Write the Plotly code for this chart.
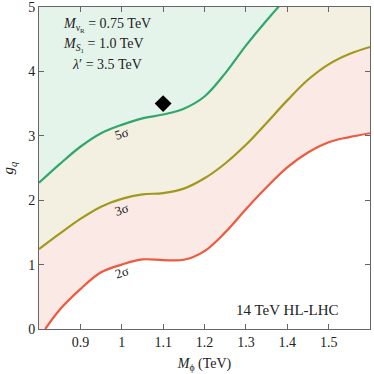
import plotly.graph_objects as go

x_vals = [0.8, 0.85, 0.9, 0.95, 1.0, 1.05, 1.1, 1.15, 1.2, 1.25, 1.3, 1.35, 1.4, 1.45, 1.5, 1.55, 1.6]
green_5sigma = [2.27, 2.56, 2.83, 3.04, 3.17, 3.27, 3.33, 3.42, 3.61, 3.97, 4.40, 4.79, 5.15, 5.45, 5.75, 6.0, 6.2]
olive_3sigma = [1.24, 1.48, 1.71, 1.90, 2.02, 2.09, 2.11, 2.18, 2.34, 2.57, 2.86, 3.20, 3.55, 3.87, 4.11, 4.27, 4.38]
red_x = [0.815, 0.85, 0.9, 0.95, 1.0, 1.05, 1.1, 1.15, 1.2, 1.25, 1.3, 1.35, 1.4, 1.45, 1.5, 1.55, 1.6]
red_2sigma = [0.0, 0.3, 0.62, 0.88, 1.0, 1.08, 1.07, 1.075, 1.21, 1.50, 1.86, 2.20, 2.51, 2.74, 2.90, 2.98, 3.04]

bench_x = [1.1]
bench_y = [3.5]

x_ticks = [0.9, 1.0, 1.1, 1.2, 1.3, 1.4, 1.5]
x_tick_labels = ["0.9", "1", "1.1", "1.2", "1.3", "1.4", "1.5"]
y_ticks = [0, 1, 2, 3, 4, 5]

FONT = "Liberation Serif, Times New Roman, Times, serif"

fig = go.Figure()
fig.add_trace(go.Scatter(x=x_vals, y=green_5sigma, mode="lines", line=dict(color="#2fa86c", width=2.2, shape="spline"),
                         fill="tozeroy", fillcolor="#f3f0e2", hoverinfo="skip"))
fig.add_trace(go.Scatter(x=x_vals, y=olive_3sigma, mode="lines", line=dict(color="#9e9a1e", width=2.2, shape="spline"),
                         fill="tozeroy", fillcolor="#fbe9e5", hoverinfo="skip"))
fig.add_trace(go.Scatter(x=red_x, y=red_2sigma, mode="lines", line=dict(color="#ef5a3e", width=2.2, shape="spline"),
                         fill="tozeroy", fillcolor="#ffffff", hoverinfo="skip"))
fig.add_trace(go.Scatter(x=bench_x, y=bench_y, mode="markers",
                         marker=dict(symbol="diamond", size=13, color="black"), hoverinfo="skip"))

labels = [(1.0, 3.03, "5σ"), (1.0, 1.85, "3σ"), (1.0, 0.88, "2σ")]
for lx, ly, t in labels:
    fig.add_annotation(x=lx, y=ly, text=t, showarrow=False, textangle=-18,
                       font=dict(family=FONT, size=13, color="#222"))

fig.add_annotation(x=0.964, y=4.72, xref="x", yref="y", text="<i>M</i><sub>ν<sub>R</sub></sub> = 0.75 TeV",
                   showarrow=False, font=dict(family=FONT, size=14, color="#222"))
fig.add_annotation(x=0.955, y=4.41, xref="x", yref="y", text="<i>M</i><sub><i>S</i><sub>1</sub></sub> = 1.0 TeV",
                   showarrow=False, font=dict(family=FONT, size=14, color="#222"))
fig.add_annotation(x=0.964, y=4.10, xref="x", yref="y", text="<i>λ</i>′ = 3.5 TeV",
                   showarrow=False, font=dict(family=FONT, size=14, color="#222"))
fig.add_annotation(x=1.40, y=0.30, xref="x", yref="y", text="14 TeV HL-LHC",
                   showarrow=False, font=dict(family=FONT, size=15, color="#222"))

axis_common = dict(showline=True, linecolor="#666", linewidth=1, mirror="ticks", ticks="inside",
                   ticklen=5, tickcolor="#666", showgrid=False, zeroline=False, ticklabeloverflow="allow",
                   tickfont=dict(family=FONT, size=14, color="#222"))

fig.update_xaxes(range=[0.8, 1.6], tickvals=x_ticks, ticktext=x_tick_labels,
                 title=dict(text="<i>M</i><sub>ϕ</sub> (TeV)", font=dict(family=FONT, size=14, color="#222"), standoff=9),
                 **axis_common)
fig.update_yaxes(range=[0, 5], tickvals=y_ticks,
                 title=dict(text="<i>g</i><sub><i>q</i></sub>", font=dict(family=FONT, size=15, color="#222"), standoff=10),
                 **axis_common)

fig.update_layout(width=374, height=374, margin=dict(l=39, r=4, t=7, b=45, autoexpand=False),
                  plot_bgcolor="#e5f4eb", paper_bgcolor="white", showlegend=False)

fig.write_html("out.html", config={"displayModeBar": False},
               post_script="document.body.style.margin='0';")
